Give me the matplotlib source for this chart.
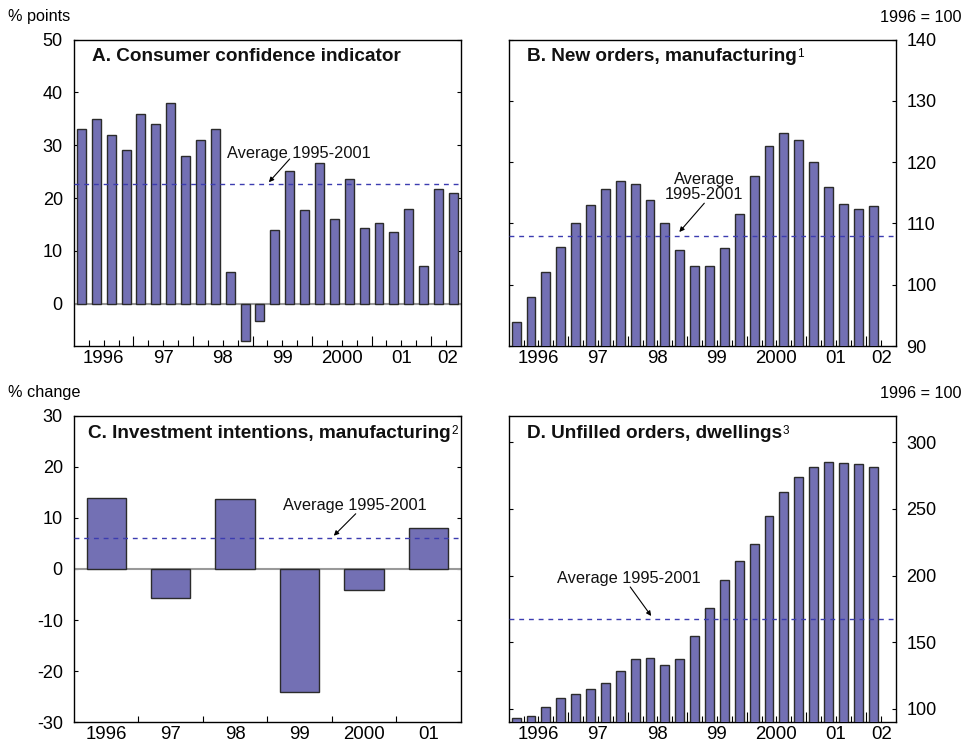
import numpy as np
import matplotlib
matplotlib.use("Agg")
import matplotlib.pyplot as plt

plt.rcParams['font.family'] = ['Liberation Sans', 'DejaVu Sans']
plt.rcParams['axes.unicode_minus'] = False

# quarterly series, 1996Q1 onwards
confidence = [33.0, 35.0, 31.9, 29.0, 36.0, 34.0, 38.0, 28.0, 30.9, 33.0,
              6.0, -7.1, -3.2, 14.0, 25.1, 17.7, 26.6, 16.0, 23.7, 14.4,
              15.3, 13.5, 17.9, 7.1, 21.8, 21.0]
confidence_avg = 22.7

new_orders = [93.9, 98.0, 102.1, 106.2, 110.0, 113.0, 115.6, 117.0, 116.5, 113.9,
              110.0, 105.7, 103.0, 103.1, 106.0, 111.6, 117.8, 122.6, 124.8, 123.6,
              120.1, 115.9, 113.2, 112.3, 112.9]
new_orders_avg = 108.0

unfilled = [93.5, 95.0, 101.8, 108.5, 111.5, 114.8, 119.5, 128.3, 137.7, 138.5,
            133.1, 137.8, 154.6, 175.4, 196.5, 211.0, 223.6, 244.4, 262.4, 273.7,
            281.2, 285.0, 284.5, 283.5, 281.2]
unfilled_avg = 167.2

# annual series
invest_years = ['1996', '97', '98', '99', '2000', '01']
invest = [13.8, -5.7, 13.7, -24.1, -4.1, 8.0]
invest_avg = 6.0

year_labels = ['1996', '97', '98', '99', '2000', '01', '02']

BAR = '#7370b4'
EDGE = '#2b2b2b'
AVG = '#3c3cb0'
N_Q = 26
XLAB = 13.4

fig = plt.figure(figsize=(9.72, 7.43), dpi=100)
axA = fig.add_axes([0.0761, 0.5343, 0.398, 0.4125])
axB = fig.add_axes([0.5233, 0.5343, 0.398, 0.4125])
axC = fig.add_axes([0.0761, 0.0279, 0.398, 0.4127])
axD = fig.add_axes([0.5233, 0.0279, 0.398, 0.4127])


def style_axis(ax, ylim, yticks, side):
    ax.set_ylim(*ylim)
    ax.set_yticks(yticks)
    for s in ax.spines.values():
        s.set_linewidth(1.0)
    ax.tick_params(axis='y', direction='in', length=3, width=0.8,
                   left=True, right=True, labelsize=13, pad=8,
                   labelleft=(side == 'left'), labelright=(side == 'right'))


def quarterly_xaxis(ax):
    ax.set_xlim(-0.5, N_Q - 0.5)
    bounds = np.arange(0.5, N_Q - 0.5)
    years = bounds[(bounds + 0.5) % 4 == 0]
    ax.set_xticks(years)
    ax.set_xticks(bounds, minor=True)
    ax.tick_params(axis='x', which='major', direction='in', length=7, width=0.8,
                   labelbottom=False)
    ax.tick_params(axis='x', which='minor', direction='in', length=4, width=0.8)
    sec = ax.secondary_xaxis('bottom')
    pos = [min(1.5 + 4 * i, 24.6) for i in range(len(year_labels))]
    sec.set_xticks(pos, year_labels)
    sec.tick_params(length=0, labelsize=XLAB, pad=3)
    sec.spines['bottom'].set_visible(False)


def add_title(ax, text, sup=None, y=0.944, x=0.047):
    t = ax.text(x, y, text, transform=ax.transAxes, fontsize=13.7,
                fontweight='bold', ha='left', va='center', color='#111111')
    if sup:
        ax.annotate(sup, xy=(1, 1), xycoords=t, xytext=(0.5, 0),
                    textcoords='offset points', fontsize=8.5, ha='left', va='top')


def add_average(ax, value, label, text_xy, arrow_from, arrow_to, ha='left'):
    ax.axhline(value, color=AVG, lw=1.0, ls=(0, (3.5, 3.5)), zorder=4)
    ax.text(*text_xy, label, fontsize=11.8, ha=ha, va='center',
            linespacing=1.0, color='#111111')
    ax.annotate('', xy=arrow_to, xytext=arrow_from,
                arrowprops=dict(arrowstyle='-|>', lw=0.8, color='black',
                                mutation_scale=7, shrinkA=0, shrinkB=0))


# A. Consumer confidence
xq = np.arange(len(confidence))
axA.bar(xq, confidence, width=0.6, color=BAR, edgecolor=EDGE, linewidth=1.0, zorder=3)
axA.axhline(0, color='#999999', lw=1.5, zorder=2)
style_axis(axA, (-8, 50), np.arange(0, 51, 10), 'left')
quarterly_xaxis(axA)
add_title(axA, 'A. Consumer confidence indicator')
add_average(axA, confidence_avg, 'Average 1995-2001', (9.78, 28.5), (14.0, 27.4), (12.6, 23.0))

# B. New orders
xb = np.arange(len(new_orders))
axB.bar(xb, new_orders, width=0.6, color=BAR, edgecolor=EDGE, linewidth=1.0, zorder=3)
style_axis(axB, (90, 140), np.arange(90, 141, 10), 'right')
quarterly_xaxis(axB)
add_title(axB, 'B. New orders, manufacturing', sup='1')
add_average(axB, new_orders_avg, 'Average\n1995-2001', (12.65, 116.0), (12.65, 113.3),
            (10.97, 108.6), ha='center')

# C. Investment intentions (annual)
xc = np.arange(len(invest)) + 0.5
axC.bar(xc, invest, width=0.61, color=BAR, edgecolor=EDGE, linewidth=1.0, zorder=3)
axC.axhline(0, color='#999999', lw=1.5, zorder=2)
style_axis(axC, (-30, 30), np.arange(-30, 31, 10), 'left')
axC.set_xlim(0, len(invest))
axC.set_xticks(np.arange(1, len(invest)))
axC.tick_params(axis='x', which='major', direction='in', length=4, width=0.8,
                labelbottom=False)
secC = axC.secondary_xaxis('bottom')
secC.set_xticks(xc, invest_years)
secC.tick_params(length=0, labelsize=XLAB, pad=3)
secC.spines['bottom'].set_visible(False)
add_title(axC, 'C. Investment intentions, manufacturing', sup='2', x=0.036, y=0.943)
add_average(axC, invest_avg, 'Average 1995-2001', (3.24, 12.5), (4.37, 10.8), (4.03, 6.5))

# D. Unfilled orders
xd = np.arange(len(unfilled))
axD.bar(xd, unfilled, width=0.6, color=BAR, edgecolor=EDGE, linewidth=1.0, zorder=3)
style_axis(axD, (90, 320), np.arange(100, 301, 50), 'right')
quarterly_xaxis(axD)
add_title(axD, 'D. Unfilled orders, dwellings', sup='3', y=0.943)
add_average(axD, unfilled_avg, 'Average 1995-2001', (2.76, 197.5), (7.67, 191.5), (9.08, 169.7))

# unit labels
fig.text(8 / 972, 1 - 17 / 743, '% points', fontsize=11.7, ha='left', va='center')
fig.text(961 / 972, 1 - 17 / 743, '1996 = 100', fontsize=11.7, ha='right', va='center')
fig.text(8 / 972, 1 - 393 / 743, '% change', fontsize=11.7, ha='left', va='center')
fig.text(961 / 972, 1 - 393 / 743, '1996 = 100', fontsize=11.7, ha='right', va='center')

fig.savefig('out.png', dpi=100)
